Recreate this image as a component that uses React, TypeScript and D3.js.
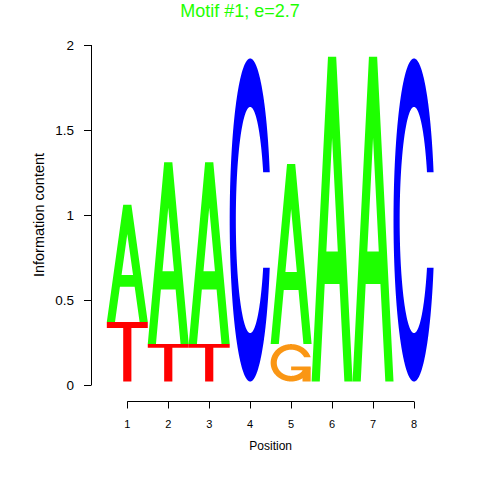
import React from 'react';
import * as d3 from 'd3';

// letter heights (bits) per position, stacked smallest at the bottom
const positions = [1, 2, 3, 4, 5, 6, 7, 8];
const heightA = [0.69, 1.07, 1.07, 0, 1.06, 1.91, 1.91, 0];
const heightC = [0, 0, 0, 1.9, 0, 0, 0, 1.9];
const heightG = [0, 0, 0, 0, 0.22, 0, 0, 0];
const heightT = [0.35, 0.22, 0.22, 0, 0, 0, 0, 0];
const yTicks = [0, 0.5, 1, 1.5, 2];
const yTickLabels = ['0', '0.5', '1', '1.5', '2'];
const title = 'Motif #1; e=2.7';

const colors: Record<string, string> = {
    A: '#1eff00',
    C: '#0000ff',
    G: '#fa9614',
    T: '#ff0000',
};

type Pt = [number, number];

// glyph outlines in a unit box, y pointing up (same shapes as seqLogo)
function glyphA(): Pt[][] {
    const x = [0, 4, 6, 10, 8, 6.8, 3.2, 2, 0];
    const y = [0, 10, 10, 0, 0, 3, 3, 0, 0];
    const hx = [3.6, 5, 6.4, 3.6];
    const hy = [4, 7.5, 4, 4];
    return [
        x.map((v, i) => [v / 10, y[i] / 10] as Pt),
        hx.map((v, i) => [v / 10, hy[i] / 10] as Pt),
    ];
}

function glyphT(): Pt[][] {
    const x = [0, 10, 10, 6, 6, 4, 4, 0];
    const y = [10, 10, 9, 9, 0, 0, 9, 9];
    return [x.map((v, i) => [v / 10, y[i] / 10] as Pt)];
}

function ringC(): Pt[] {
    const n = 100;
    const a1 = d3.range(n).map(i => 0.3 + Math.PI / 2 + (i / (n - 1)) * (Math.PI / 2 - 0.3));
    const a2 = d3.range(n).map(i => Math.PI + (i / (n - 1)) * (Math.PI / 2));
    const yl1 = a1.map(a => 0.5 + 0.5 * Math.cos(a));
    const xl = [...a1, ...a2].map(a => 0.5 + 0.5 * Math.sin(a));
    const yl = [...a1, ...a2].map(a => 0.5 + 0.5 * Math.cos(a));
    const outerX = [...xl, ...xl.slice().reverse()];
    const outerY = [...yl, ...yl.slice().reverse().map(v => 1 - v)];
    const maxY = d3.max(yl1) as number;
    let xi1 = a1.map(a => 0.5 + 0.35 * Math.sin(a));
    let yi1 = a1.map(a => 0.5 + 0.35 * Math.cos(a));
    const keep = yi1.map(v => v <= maxY);
    xi1 = xi1.filter((_, i) => keep[i]);
    yi1 = yi1.filter((_, i) => keep[i]);
    yi1[0] = maxY;
    const xi = [...xi1, ...a2.map(a => 0.5 + 0.35 * Math.sin(a))];
    const yi = [...yi1, ...a2.map(a => 0.5 + 0.35 * Math.cos(a))];
    const innerX = [...xi, ...xi.slice().reverse()];
    const innerY = [...yi, ...yi.slice().reverse().map(v => 1 - v)];
    const px = [...outerX, ...innerX.slice().reverse()];
    const py = [...outerY, ...innerY.slice().reverse()];
    return px.map((v, i) => [v, py[i]] as Pt);
}

function glyphC(): Pt[][] {
    return [ringC()];
}

function glyphG(): Pt[][] {
    const r1 = 0.5 + 0.5 * Math.sin(0.3 + Math.PI / 2);
    const h1 = 0.4;
    const ax = [r1, 0.5, 0.5, r1 - 0.2, r1 - 0.2, r1, r1];
    const ay = [h1, h1, h1 - 0.1, h1 - 0.1, 0, 0, h1];
    return [ringC(), ax.map((v, i) => [v, ay[i]] as Pt)];
}

const glyphs: Record<string, () => Pt[][]> = { A: glyphA, C: glyphC, G: glyphG, T: glyphT };

export default function App() {
    const width = 480;
    const height = 480;
    const fontFamily = '"Liberation Sans", Arial, Helvetica, sans-serif';

    const x = d3.scaleLinear().domain([1, 8]).range([127.3, 414]);
    const y = d3.scaleLinear().domain([0, 2]).range([385, 45]);
    const colW = x(2) - x(1);
    const baseOffset = 3.5; // letters sit a touch above the zero line

    const series: Record<string, number[]> = { A: heightA, C: heightC, G: heightG, T: heightT };

    const marks: { key: string; d: string; fill: string; rule: string }[] = [];
    positions.forEach((p, i) => {
        const stack = Object.keys(series)
            .map(l => ({ l, h: series[l][i] }))
            .filter(s => s.h > 0)
            .sort((a, b) => a.h - b.h);
        let cum = 0;
        stack.forEach(s => {
            const x0 = x(p) - colW / 2;
            const yBottom = y(cum) - baseOffset;
            const hPx = y(0) - y(s.h);
            const line = d3.line<Pt>()
                .x(d => x0 + d[0] * colW)
                .y(d => yBottom - d[1] * hPx);
            const polys = glyphs[s.l]();
            if (s.l === 'A') {
                const d = polys.map(pl => (line(pl) || '') + 'Z').join('');
                marks.push({ key: `${p}-${s.l}`, d, fill: colors[s.l], rule: 'evenodd' });
            } else {
                polys.forEach((pl, k) => {
                    marks.push({ key: `${p}-${s.l}-${k}`, d: (line(pl) || '') + 'Z', fill: colors[s.l], rule: 'nonzero' });
                });
            }
            cum += s.h;
        });
    });

    const axisX = 91.5;
    const axisY = 401.5;

    return (
        <svg width={width} height={height} style={{ position: 'absolute', left: 0, top: 0, background: '#fff' }}>
            <text x={240} y={17} textAnchor="middle" fill={colors.A} fontFamily={fontFamily} fontSize={18}>
                {title}
            </text>

            {marks.map(m => (
                <path key={m.key} d={m.d} fill={m.fill} fillRule={m.rule as any} />
            ))}

            {/* y axis */}
            <line x1={axisX} x2={axisX} y1={y(2)} y2={y(0)} stroke="#000" strokeWidth={1} />
            {yTicks.map((t, i) => (
                <g key={t}>
                    <line x1={axisX - 7.5} x2={axisX} y1={Math.round(y(t)) + 0.5} y2={Math.round(y(t)) + 0.5} stroke="#000" />
                    <text x={74} y={y(t)} dy="0.36em" textAnchor="end" fontFamily={fontFamily} fontSize={13.5} fill="#000">
                        {yTickLabels[i]}
                    </text>
                </g>
            ))}
            <text
                transform={`translate(44, ${(y(0) + y(2)) / 2}) rotate(-90)`}
                textAnchor="middle"
                fontFamily={fontFamily}
                fontSize={14.5}
                fill="#000"
            >
                Information content
            </text>

            {/* x axis */}
            <line x1={x(1)} x2={x(8)} y1={axisY} y2={axisY} stroke="#000" />
            {positions.map(p => (
                <g key={p}>
                    <line x1={Math.round(x(p)) + 0.5} x2={Math.round(x(p)) + 0.5} y1={axisY} y2={axisY + 7} stroke="#000" />
                    <text x={x(p)} y={428} textAnchor="middle" fontFamily={fontFamily} fontSize={11} fill="#000">
                        {p}
                    </text>
                </g>
            ))}
            <text x={(x(1) + x(8)) / 2} y={450} textAnchor="middle" fontFamily={fontFamily} fontSize={12} fill="#000">
                Position
            </text>
        </svg>
    );
}
